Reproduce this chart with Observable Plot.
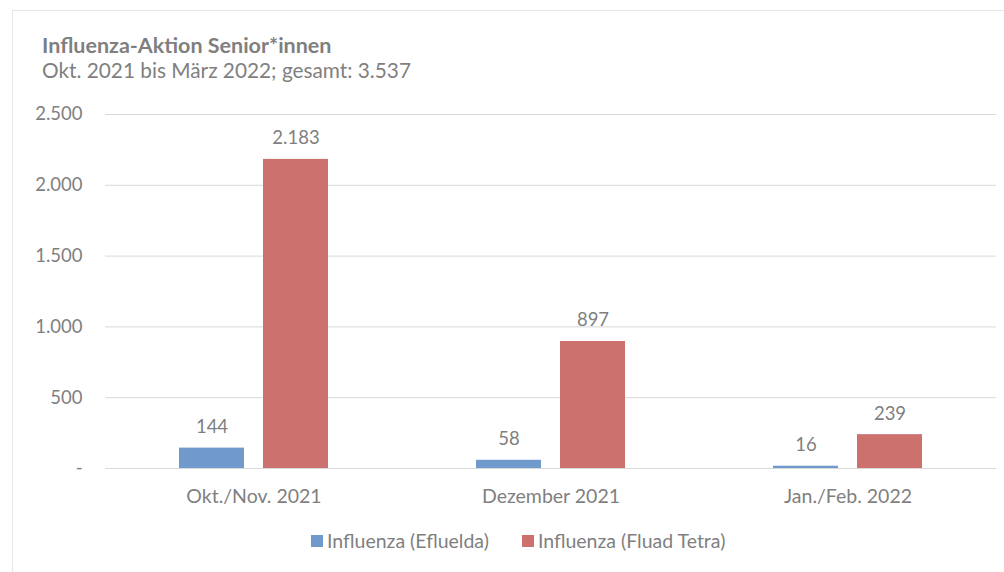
<!DOCTYPE html>
<html>
<head>
<meta charset="utf-8">
<script src="https://cdn.jsdelivr.net/npm/d3@7"></script>
<script src="https://cdn.jsdelivr.net/npm/@observablehq/plot@0.6"></script>
<style>
  html, body { margin: 0; padding: 0; background: #fff; }
  body { width: 1004px; height: 572px; position: relative; overflow: hidden; font-family: Lato, "Open Sans", sans-serif; }
  #frame { position: absolute; left: 12px; top: 10px; width: 1000px; height: 600px; border: 1.5px solid #e6e6e6; box-sizing: border-box; }
  #title { position: absolute; left: 42px; top: 35px; font-size: 21.5px; line-height: 21.5px; font-weight: bold; color: #7f7f7f; white-space: nowrap; }
  #subtitle { position: absolute; left: 42px; top: 60px; font-size: 20.8px; line-height: 20.8px; color: #7f7f7f; white-space: nowrap; }
  #chart { position: absolute; left: 0; top: 95px; }
  #legend { position: absolute; left: 311px; top: 531px; font-size: 19.5px; line-height: 19.5px; color: #7f7f7f; white-space: nowrap; display: flex; align-items: center; }
  .sw { display: inline-block; width: 12px; height: 12px; margin-right: 4px; }
  .item { display: flex; align-items: center; margin-right: 33px; }
</style>
</head>
<body>
<div id="frame"></div>
<div id="title">Influenza-Aktion Senior*innen</div>
<div id="subtitle">Okt. 2021 bis März 2022; gesamt: 3.537</div>
<div id="chart"></div>
<div id="legend"></div>
<script>
const categories = ["Okt./Nov. 2021", "Dezember 2021", "Jan./Feb. 2022"];
const series = ["Influenza (Efluelda)", "Influenza (Fluad Tetra)"];
const efluelda = [144, 58, 16];
const fluadTetra = [2183, 897, 239];
const yTicks = [0, 500, 1000, 1500, 2000, 2500];
const yTickLabels = ["-", "500", "1.000", "1.500", "2.000", "2.500"];
const colors = ["#7099CC", "#CC716E"];

const data = categories.flatMap((c, i) => [
  {cat: c, series: series[0], value: efluelda[i]},
  {cat: c, series: series[1], value: fluadTetra[i]}
]);

const fmt = v => d3.format(",")(v).replace(/,/g, ".");

const chart = Plot.plot({
  width: 1004,
  height: 420,
  marginLeft: 105,
  marginRight: 8,
  marginTop: 19,
  marginBottom: 47,
  style: {fontFamily: "Lato, sans-serif", fontSize: "18.5px", color: "#7f7f7f", background: "transparent", overflow: "visible"},
  fx: {domain: categories, padding: 0, label: null, axis: "bottom", tickSize: 0, tickPadding: 21, fontSize: 19.5},
  x: {domain: series, paddingInner: 0.2235, paddingOuter: 0.859, axis: null},
  y: {domain: [0, 2500], ticks: yTicks, tickFormat: d => yTickLabels[yTicks.indexOf(d)], label: null, tickSize: 0, tickPadding: 23},
  color: {domain: series, range: colors},
  marks: [
    Plot.ruleY(yTicks, {stroke: "#d9d9d9", strokeWidth: 1}),
    Plot.barY(data, {fx: "cat", x: "series", y: "value", fill: "series"}),
    Plot.text(data, {fx: "cat", x: "series", y: "value", text: d => fmt(d.value), dy: -21, fill: "#7f7f7f", fontSize: 18.5})
  ]
});
document.getElementById("chart").appendChild(chart);
chart.querySelectorAll("[aria-label='fx-axis tick label'] text, [aria-label='fx-axis'] text").forEach(t => t.setAttribute("font-size", "19.5"));

const legend = document.getElementById("legend");
series.forEach((s, i) => {
  const item = document.createElement("div");
  item.className = "item";
  const sw = document.createElement("span");
  sw.className = "sw";
  sw.style.background = colors[i];
  item.appendChild(sw);
  item.appendChild(document.createTextNode(s));
  legend.appendChild(item);
});
</script>
</body>
</html>
